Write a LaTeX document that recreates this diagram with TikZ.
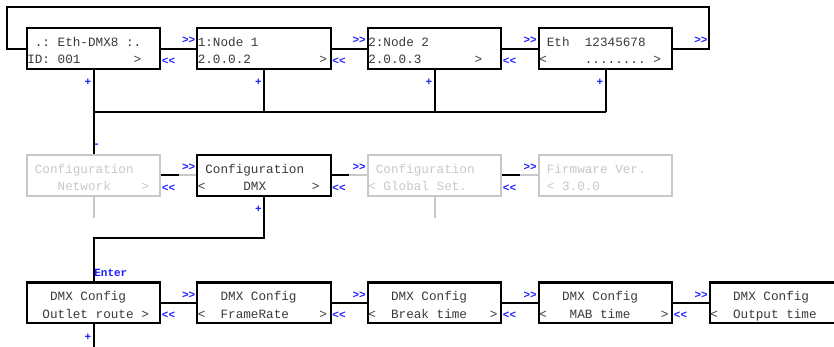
\documentclass[tikz,border=0pt]{standalone}
\usepackage{fontspec}
\setmonofont{Liberation Mono}
\usetikzlibrary{calc}
\definecolor{lcdtext}{HTML}{3A3A3A}
\definecolor{dimgrey}{HTML}{C8C8C8}
\definecolor{keyblue}{HTML}{1E1EFF}
\tikzset{
  box/.style={draw=black, line width=2.2pt, minimum width=133.5, minimum height=40.7,
    inner sep=0, outer sep=0, fill=white},
  dimbox/.style={box, draw=dimgrey},
  txt/.style={anchor=base west, inner sep=0, outer sep=0,
    font={\ttfamily\fontsize{12.67}{15}\selectfont}, text=lcdtext},
  dimtxt/.style={txt, text=dimgrey},
  key/.style={inner sep=0, outer sep=0,
    font={\ttfamily\bfseries\fontsize{11}{13}\selectfont}, text=keyblue},
  wire/.style={line width=2pt, draw=black, line join=miter},
  dimwire/.style={line width=2pt, draw=dimgrey},
}
% two LCD lines inside a box
\newcommand\lcdlines[4]{%
  \node[#4] (#1-la) at ([shift={(0.5,18)}]#1.north west) {#2};
  \node[#4] (#1-lb) at ([shift={(0.5,35.5)}]#1.north west) {#3};}
% >> and << keys between two neighbouring boxes
\newcommand\navkeys[2]{%
  \node[key, anchor=east] (#2-in) at ([shift={(-2,-8)}]#2.west) {>>};
  \node[key, anchor=west] (#1-out) at ([shift={(1.7,12.4)}]#1.east) {<<};}
\begin{document}
\begin{tikzpicture}[x=1pt, y=-1pt]
\useasboundingbox (0,0) rectangle (834,347);
\clip (0,0) rectangle (834,347);

% ---------- row 1 ----------
\node[box] (b1) at (93.5,48.65) {};
\node[box] (b2) at (264,48.65) {};
\node[box] (b3) at (434.5,48.65) {};
\node[box] (b4) at (605.5,48.65) {};
% ---------- row 2 ----------
\node[dimbox] (n1) at (93.5,175.5) {};
\node[box] (n2) at (264,175.5) {};
\node[dimbox] (n3) at (434.5,175.5) {};
\node[dimbox] (n4) at (605.5,175.5) {};
% ---------- row 3 ----------
\node[box] (d1) at (93.5,302.85) {};
\node[box] (d2) at (264,302.85) {};
\node[box] (d3) at (434.5,302.85) {};
\node[box] (d4) at (605.5,302.85) {};
\node[box] (d5) at (776.5,302.85) {};

% helper coordinates
\coordinate (loopTL) at (7.3,7.3);
\coordinate (loopTR) at (708.7,7.3);
\coordinate (loopR) at (708.7,48.65);
\coordinate (bus) at (0,112);
\coordinate (turn) at (0,238.3);
\coordinate (n1end) at (93.5,218);
\coordinate (n3end) at (434.5,218);
\coordinate (d1end) at (93.5,350);

% ---------- wires row 1 ----------
\draw[wire] (b1.east) -- (b2.west);
\draw[wire] (b2.east) -- (b3.west);
\draw[wire] (b3.east) -- (b4.west);
\draw[wire] (b4.east) -- (loopR) -- (loopTR) -- (loopTL) |- (b1.west);
\draw[wire] (b1.south) -- (n1.north);
\draw[wire] (b1.south|-bus) -- (b4.south|-bus);
\draw[wire] (b2.south) -- (b2.south|-bus);
\draw[wire] (b3.south) -- (b3.south|-bus);
\draw[wire] (b4.south) -- (b4.south|-bus);

% ---------- wires row 2 ----------
\draw[wire] (n1.east) -- ($(n1.east)!0.5!(n2.west)$) coordinate (m12);
\draw[dimwire] (m12) -- (n2.west);
\draw[wire] (n2.east) -- ($(n2.east)!0.5!(n3.west)$) coordinate (m23);
\draw[dimwire] (m23) -- (n3.west);
\draw[wire] (n3.east) -- ($(n3.east)!0.5!(n4.west)$) coordinate (m34);
\draw[dimwire] (m34) -- (n4.west);
\draw[dimwire] (n1.south) -- (n1end);
\draw[dimwire] (n3.south) -- (n3end);
\draw[wire] (n2.south) -- (n2.south|-turn) -| (d1.north);

% ---------- wires row 3 ----------
\draw[wire] (d1.east) -- (d2.west);
\draw[wire] (d2.east) -- (d3.west);
\draw[wire] (d3.east) -- (d4.west);
\draw[wire] (d4.east) -- (d5.west);
\draw[wire] (d1.south) -- (d1end);

% redraw boxes on top of wire ends
\foreach \b in {b1,b2,b3,b4,n2,d1,d2,d3,d4,d5}
  \draw[line width=2.2pt, black] (\b.north west) rectangle (\b.south east);
\foreach \b in {n1,n3,n4}
  \draw[line width=2.2pt, dimgrey] (\b.north west) rectangle (\b.south east);

% ---------- texts ----------
\lcdlines{b1}{~.:~Eth-DMX8~:.}{ID:~001~~~~~~~>}{txt}
\lcdlines{b2}{1:Node~1}{2.0.0.2~~~~~~~~~>}{txt}
\lcdlines{b3}{2:Node~2}{2.0.0.3~~~~~~~>}{txt}
\lcdlines{b4}{~Eth~~12345678}{<~~~~~........~>}{txt}
\lcdlines{n1}{~Configuration}{~~~~Network~~~~>}{dimtxt}
\lcdlines{n2}{~Configuration}{<~~~~~DMX~~~~~~>}{txt}
\lcdlines{n3}{~Configuration}{<~Global~Set.}{dimtxt}
\lcdlines{n4}{~Firmware~Ver.}{~<~3.0.0}{dimtxt}
\lcdlines{d1}{~~~DMX~Config}{~~Outlet~route~>}{txt}
\lcdlines{d2}{~~~DMX~Config}{<~~FrameRate~~~~>}{txt}
\lcdlines{d3}{~~~DMX~Config}{<~~Break~time~~~>}{txt}
\lcdlines{d4}{~~~DMX~Config}{<~~~MAB~time~~~~>}{txt}
\lcdlines{d5}{~~~DMX~Config}{<~~Output~time}{txt}

% ---------- keys ----------
\navkeys{b1}{b2}
\navkeys{b2}{b3}
\navkeys{b3}{b4}
\node[key, anchor=east] (loop-in) at ([shift={(-1.2,-8)}]loopR) {>>};
\navkeys{n1}{n2}
\navkeys{n2}{n3}
\navkeys{n3}{n4}
\navkeys{d1}{d2}
\navkeys{d2}{d3}
\navkeys{d3}{d4}
\navkeys{d4}{d5}

\node[key] (p1) at ([shift={(-5.5,13.3)}]b1.south) {+};
\node[key] (p2) at ([shift={(-5.5,13.3)}]b2.south) {+};
\node[key] (p3) at ([shift={(-5.5,13.3)}]b3.south) {+};
\node[key] (p4) at ([shift={(-5.5,13.3)}]b4.south) {+};
\node[key] (m1) at ([shift={(3.2,-9.3)}]n1.north) {-};
\node[key] (p5) at ([shift={(-5.7,13.3)}]n2.south) {+};
\node[key, anchor=west] (enter) at ([shift={(0.8,-9.4)}]d1.north) {Enter};
\node[key] (p6) at ([shift={(-5.5,13.7)}]d1.south) {+};
\end{tikzpicture}
\end{document}
